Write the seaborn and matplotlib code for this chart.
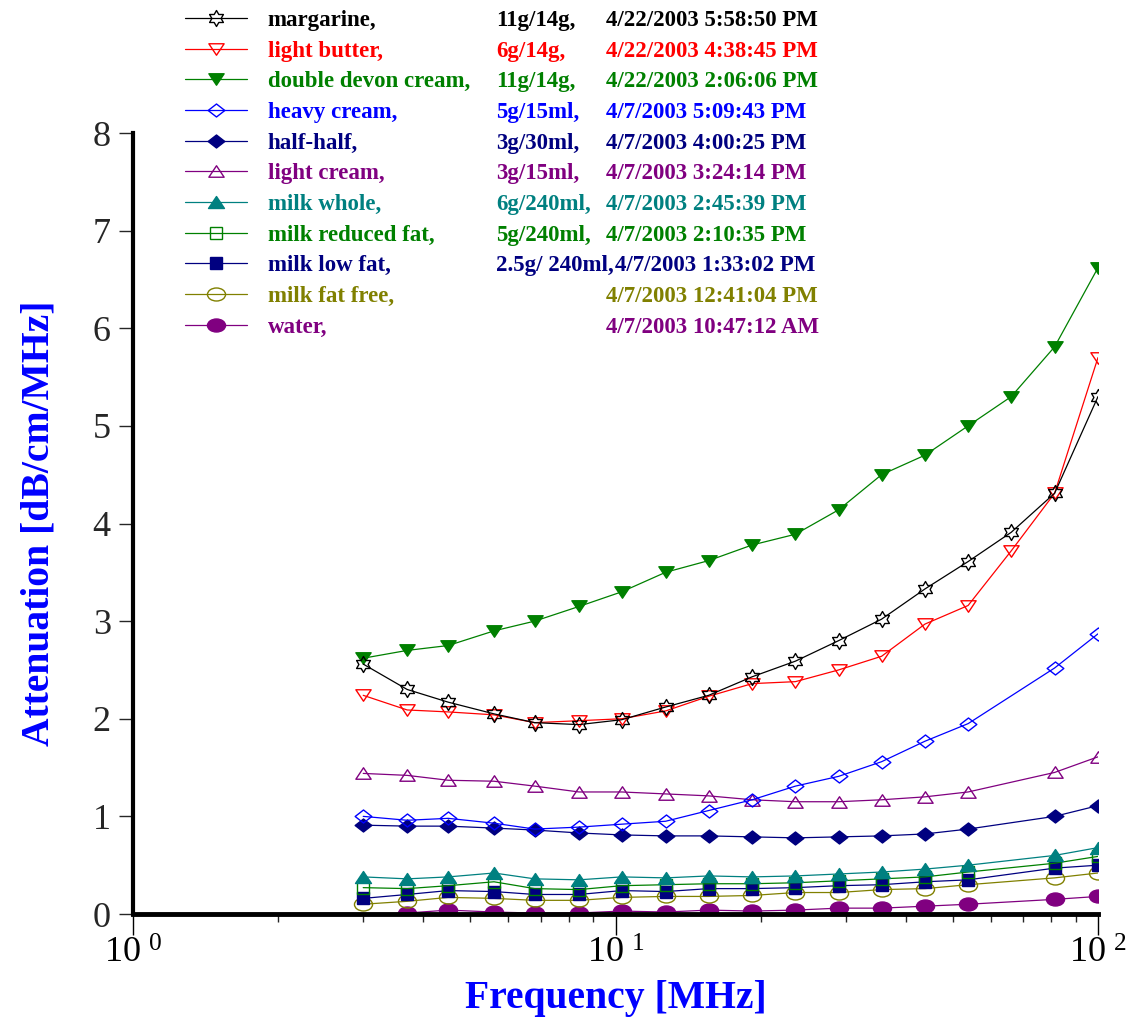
import numpy as np
import pandas as pd
import matplotlib
matplotlib.use("Agg")
import matplotlib.pyplot as plt
from matplotlib.path import Path
from matplotlib.ticker import FixedLocator, FuncFormatter, NullFormatter
import seaborn as sns

# frequency points (MHz)
freq = [3.0, 3.7, 4.5, 5.6, 6.8, 8.4, 10.3, 12.7, 15.6, 19.2, 23.6, 29.0, 35.6, 43.8, 53.8, 66.1, 81.3, 100.0]
# most series have no point at 66.1 MHz
freq_short = [3.0, 3.7, 4.5, 5.6, 6.8, 8.4, 10.3, 12.7, 15.6, 19.2, 23.6, 29.0, 35.6, 43.8, 53.8, 81.3, 100.0]

names = ["margarine,", "light butter,", "double devon cream,", "heavy cream,", "half-half,",
         "light cream,", "milk whole,", "milk reduced fat,", "milk low fat,", "milk fat free,", "water,"]
amounts = ["11g/14g,", "6g/14g,", "11g/14g,", "5g/15ml,", "3g/30ml,",
           "3g/15ml,", "6g/240ml,", "5g/240ml,", "2.5g/ 240ml,", "", ""]
dates = ["4/22/2003 5:58:50 PM", "4/22/2003 4:38:45 PM", "4/22/2003 2:06:06 PM", "4/7/2003 5:09:43 PM",
         "4/7/2003 4:00:25 PM", "4/7/2003 3:24:14 PM", "4/7/2003 2:45:39 PM", "4/7/2003 2:10:35 PM",
         "4/7/2003 1:33:02 PM", "4/7/2003 12:41:04 PM", "4/7/2003 10:47:12 AM"]

# attenuation in dB/cm/MHz
margarine = [2.56, 2.30, 2.17, 2.05, 1.96, 1.94, 1.99, 2.12, 2.24, 2.43, 2.59, 2.80, 3.02, 3.33, 3.61, 3.91, 4.31, 5.30]
light_butter = [2.24, 2.09, 2.07, 2.04, 1.96, 1.98, 2.00, 2.08, 2.23, 2.36, 2.38, 2.50, 2.64, 2.97, 3.16, 3.72, 4.31, 5.70]
devon_cream = [2.62, 2.70, 2.75, 2.90, 3.00, 3.15, 3.30, 3.50, 3.62, 3.78, 3.89, 4.14, 4.50, 4.70, 5.00, 5.30, 5.81, 6.62]
heavy_cream = [1.00, 0.96, 0.98, 0.93, 0.87, 0.89, 0.92, 0.95, 1.06, 1.17, 1.31, 1.41, 1.56, 1.77, 1.95, 2.52, 2.87]
half_half = [0.91, 0.90, 0.90, 0.88, 0.86, 0.83, 0.81, 0.80, 0.80, 0.79, 0.78, 0.79, 0.80, 0.82, 0.87, 1.00, 1.11]
light_cream = [1.44, 1.42, 1.37, 1.36, 1.31, 1.25, 1.25, 1.23, 1.21, 1.17, 1.15, 1.15, 1.17, 1.20, 1.25, 1.45, 1.61]
milk_whole = [0.38, 0.36, 0.38, 0.42, 0.36, 0.35, 0.38, 0.37, 0.39, 0.38, 0.39, 0.41, 0.43, 0.46, 0.50, 0.60, 0.68]
milk_reduced = [0.27, 0.26, 0.29, 0.33, 0.26, 0.25, 0.29, 0.30, 0.31, 0.31, 0.32, 0.34, 0.36, 0.38, 0.43, 0.52, 0.59]
milk_low = [0.16, 0.20, 0.24, 0.23, 0.20, 0.20, 0.24, 0.23, 0.26, 0.26, 0.27, 0.29, 0.30, 0.33, 0.35, 0.47, 0.50]
milk_free = [0.10, 0.13, 0.17, 0.16, 0.14, 0.14, 0.17, 0.18, 0.18, 0.19, 0.22, 0.22, 0.25, 0.26, 0.30, 0.37, 0.42]
water = [-0.01, 0.01, 0.04, 0.02, 0.01, 0.01, 0.03, 0.02, 0.04, 0.03, 0.04, 0.06, 0.06, 0.08, 0.10, 0.15, 0.18]

series = [margarine, light_butter, devon_cream, heavy_cream, half_half, light_cream,
          milk_whole, milk_reduced, milk_low, milk_free, water]
colors = ["#000000", "#ff0000", "#008000", "#0000ff", "#000080", "#800080",
          "#008080", "#008000", "#000080", "#808000", "#800080"]


def shape(verts):
    return Path(verts + [verts[0]], closed=True)


star = Path.unit_regular_star(6, 0.577)
tri_down = shape([(0, -0.75), (-1, 0.75), (1, 0.75)])
tri_up = shape([(0, 0.75), (-1, -0.75), (1, -0.75)])
diamond = shape([(0, 0.78), (1, 0), (0, -0.78), (-1, 0)])
circ = Path.unit_circle()
ellipse = Path(circ.vertices * np.array([1, 0.72]), circ.codes)

# marker, size, filled
styles = [(star, 11.5, False), (tri_down, 11, False), (tri_down, 11, True), (diamond, 12, False),
          (diamond, 12, True), (tri_up, 11, False), (tri_up, 11.5, True), ("s", 8.5, False),
          ("s", 8.5, True), (ellipse, 13, False), (ellipse, 13, True)]

sns.set_theme(style="white")
plt.rcParams["font.family"] = ["Liberation Serif", "DejaVu Serif"]
plt.rcParams["mathtext.fontset"] = "custom"
plt.rcParams["mathtext.rm"] = "Liberation Serif"

fig = plt.figure(figsize=(11.34, 10.21), dpi=100)
ax = fig.add_axes([133 / 1134, 1 - 914 / 1021, 965 / 1134, 781 / 1021])

# draw last entries first so the upper legend entries sit on top
for i in reversed(range(len(series))):
    vals = series[i]
    xs = freq if len(vals) == len(freq) else freq_short
    df = pd.DataFrame({"freq": xs, "att": vals})
    mk, ms, filled = styles[i]
    sns.lineplot(data=df, x="freq", y="att", ax=ax, color=colors[i], lw=0.9,
                 marker=mk, markersize=ms, markeredgecolor=colors[i], markeredgewidth=1.0,
                 markerfacecolor=colors[i] if filled else "none",
                 markevery=list(range(1, len(vals))) if i == 10 else None,
                 label=names[i], legend=False)

ax.set_xscale("log")
ax.set_xlim(1, 100)
ax.set_ylim(0, 8)

ax.xaxis.set_major_locator(FixedLocator([1, 10, 100]))
ax.xaxis.set_major_formatter(FuncFormatter(
    lambda v, p: r"$\mathregular{10^{\ %d}}$" % int(round(np.log10(v)))))
ax.xaxis.set_minor_locator(FixedLocator([k * 10 ** d for d in (0, 1) for k in range(2, 10)]))
ax.xaxis.set_minor_formatter(NullFormatter())
ax.set_yticks(range(0, 9))

ax.tick_params(axis="x", which="major", direction="out", length=15, width=1, pad=2,
               labelsize=26, colors="black", bottom=True)
ax.tick_params(axis="x", which="minor", direction="out", length=6, width=1, bottom=True)
ax.tick_params(axis="y", direction="out", length=10, width=1, pad=6, labelsize=26, left=True)

for side in ["top", "right"]:
    ax.spines[side].set_visible(False)
ax.spines["left"].set_linewidth(3)
ax.spines["bottom"].set_linewidth(3.5)
ax.spines["left"].set_color("black")
ax.spines["bottom"].set_color("black")

ax.set_xlabel("Frequency [MHz]", fontsize=28.5, fontweight="bold", color="#0000ff")
ax.xaxis.set_label_coords(0.5, -0.085)
ax.set_ylabel("Attenuation [dB/cm/MHz]", fontsize=28.5, fontweight="bold", color="#0000ff")
ax.yaxis.set_label_coords(-0.078, 0.5)

handles, labels = ax.get_legend_handles_labels()
by_label = dict(zip(labels, handles))
leg_font = {"family": "Liberation Serif", "weight": "bold", "size": 16.5}
leg = ax.legend([by_label[n] for n in names], names, loc="upper left",
                bbox_to_anchor=(185 / 1134, 1 - 10 / 1021), bbox_transform=fig.transFigure,
                frameon=False, prop=leg_font, labelcolor="linecolor", handlelength=2.7,
                handletextpad=0.9, labelspacing=0.42, borderpad=0, borderaxespad=0)

fig.canvas.draw()
inv = fig.transFigure.inverted()
for t, amt, dt, c in zip(leg.get_texts(), amounts, dates, colors):
    bb = t.get_window_extent()
    y = inv.transform((0, bb.y0))[1]
    at = fig.text(496 / 1134, y, amt, va="bottom", ha="left", color=c, **leg_font)
    # the date follows the amount column, or directly after a long amount
    x_end = at.get_window_extent().x1 if amt else 0
    x_date = max(606, x_end + 1) / 1134
    fig.text(x_date, y, dt, va="bottom", ha="left", color=c, **leg_font)

fig.savefig("out.png", dpi=100)
